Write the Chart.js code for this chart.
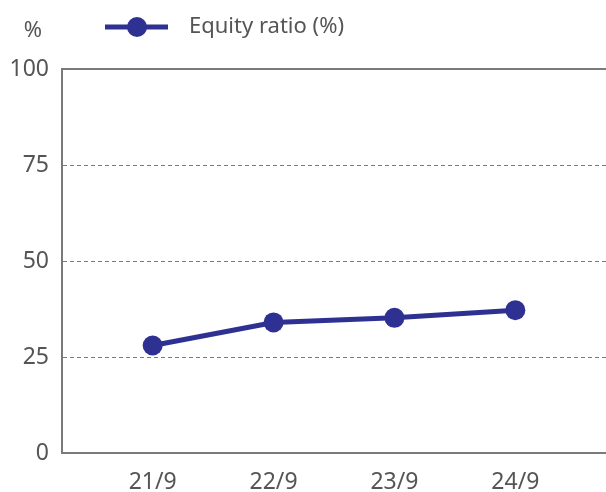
<!DOCTYPE html>
<html>
<head>
<meta charset="utf-8">
<script src="https://cdn.jsdelivr.net/npm/chart.js@4"></script>
<style>
  html, body { margin: 0; padding: 0; background: #fff; }
  #wrap { width: 606px; height: 492px; }
</style>
</head>
<body>
<div id="wrap"><canvas id="myChart"></canvas></div>
<script>
// data
const periods = ["21/9", "22/9", "23/9", "24/9"];
const equityRatio = [28, 34, 35.2, 37.2];
const yTicks = [0, 25, 50, 75, 100];
const seriesLabel = "Equity ratio (%)";
const unitLabel = "%";

const lineColor = "#2e3192";
const axisColor = "#7a7a7a";
const textColor = "#555555";
const fontFamily = "'Noto Sans', 'Open Sans', sans-serif";

// legend + unit drawn at the top
const topLegend = {
  id: "topLegend",
  afterDraw(chart) {
    const c = chart.ctx;
    c.save();
    c.strokeStyle = lineColor;
    c.lineWidth = 5;
    c.beginPath();
    c.moveTo(105, 27);
    c.lineTo(168, 27);
    c.stroke();
    c.fillStyle = lineColor;
    c.beginPath();
    c.arc(137, 27, 10, 0, Math.PI * 2);
    c.fill();
    c.fillStyle = textColor;
    c.font = "22px " + fontFamily;
    c.textBaseline = "middle";
    c.textAlign = "left";
    c.fillText(chart.data.datasets[0].label, 189, 27);
    c.textAlign = "center";
    c.fillText(unitLabel, 33, 31);
    c.restore();
  },
};

// keep the plot flush with the canvas edges
const noPad = (s) => {
  s.paddingLeft = 0;
  s.paddingRight = 0;
};

const ctx = document.getElementById("myChart");

new Chart(ctx, {
  type: "line",
  data: {
    datasets: [
      {
        label: seriesLabel,
        data: equityRatio.map((v, i) => ({ x: i, y: v })),
        borderColor: lineColor,
        backgroundColor: lineColor,
        borderWidth: 5,
        pointRadius: 10,
        pointHoverRadius: 10,
        pointBorderWidth: 0,
      },
    ],
  },
  options: {
    responsive: true,
    maintainAspectRatio: false,
    animation: false,
    layout: {
      autoPadding: false,
      padding: { top: 68, right: 0, bottom: 0, left: 0 },
    },
    plugins: { legend: { display: false }, tooltip: { enabled: false } },
    scales: {
      x: {
        type: "linear",
        min: -0.75,
        max: 3.75,
        afterBuildTicks: (s) => {
          s.ticks = periods.map((_, i) => ({ value: i }));
        },
        afterFit: (s) => {
          s.height = 39;
          noPad(s);
        },
        ticks: {
          callback: (v) => periods[v] ?? "",
          color: textColor,
          font: { family: fontFamily, size: 23 },
          padding: 8,
          maxRotation: 0,
        },
        grid: { display: false },
        border: { color: axisColor, width: 2 },
      },
      xTop: {
        type: "linear",
        position: "top",
        min: 0,
        max: 1,
        ticks: { display: false },
        grid: { display: false, drawTicks: false },
        border: { color: axisColor, width: 2 },
        afterFit: (s) => {
          s.height = 1;
          noPad(s);
        },
      },
      y: {
        min: 0,
        max: 100,
        afterBuildTicks: (s) => {
          s.ticks = yTicks.map((v) => ({ value: v }));
        },
        afterFit: (s) => {
          s.width = 62;
        },
        ticks: {
          color: textColor,
          font: { family: fontFamily, size: 23 },
          padding: 13,
        },
        grid: { color: axisColor, lineWidth: 1, drawTicks: false },
        border: { color: axisColor, width: 2, dash: [4, 3] },
      },
    },
  },
  plugins: [topLegend],
});
</script>
</body>
</html>
